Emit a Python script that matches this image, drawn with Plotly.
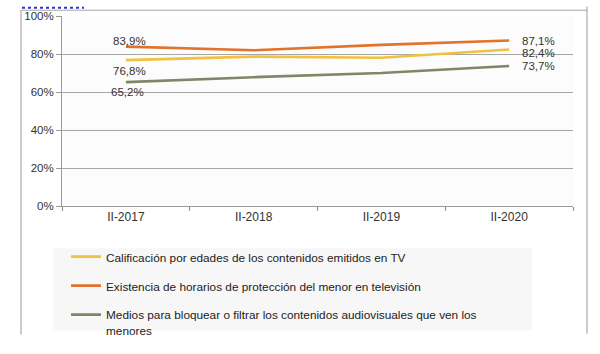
import plotly.graph_objects as go

categories = ["II-2017", "II-2018", "II-2019", "II-2020"]
series_names = [
    "Calificación por edades de los contenidos emitidos en TV",
    "Existencia de horarios de protección del menor en televisión",
    "Medios para bloquear o filtrar los contenidos audiovisuales que ven los<br>menores",
]
calificacion = [76.8, 78.6, 78.0, 82.4]
horarios = [83.9, 82.0, 84.8, 87.1]
medios = [65.2, 67.8, 70.0, 73.7]
y_ticks = [0, 20, 40, 60, 80, 100]

colors = ["#F2C140", "#E2722C", "#7E8766"]
values = [calificacion, horarios, medios]
# label offsets (px) for first and last points
first_shift = [(4, -11), (4, 6), (2, -10)]
last_shift = [(11, -4), (11, 0), (11, 0)]

# plot area in pixels
PX0, PX1, PY0, PY1 = 62, 573, 10, 208
def px(x):
    return (x - PX0) / (PX1 - PX0)
def py(y):
    return (PY1 - y) / (PY1 - PY0)

def fmt(v):
    return f"{v:.1f}".replace(".", ",") + "%"

fig = go.Figure()
annotations = []
lab_font = dict(family="Liberation Sans, Arial", size=11.5, color="#333333")
for i, (name, vals) in enumerate(zip(series_names, values)):
    fig.add_trace(go.Scatter(
        x=categories, y=vals, name=name, mode="lines",
        line=dict(color=colors[i], width=2.6),
        legendgroup=str(i), hoverinfo="skip",
    ))
    annotations.append(dict(
        x=categories[0], y=vals[0], text=fmt(vals[0]), showarrow=False,
        xanchor="center", yanchor="middle",
        xshift=first_shift[i][0], yshift=first_shift[i][1], font=lab_font,
    ))
    annotations.append(dict(
        x=categories[-1], y=vals[-1], text=fmt(vals[-1]), showarrow=False,
        xanchor="left", yanchor="middle",
        xshift=last_shift[i][0], yshift=last_shift[i][1], font=lab_font,
    ))

shapes = [
    # outer chart border
    dict(type="line", xref="paper", yref="paper", x0=px(21), x1=px(21), y0=py(4), y1=py(342),
         line=dict(color="#A8A8A8", width=1.2)),
    dict(type="line", xref="paper", yref="paper", x0=px(587), x1=px(587), y0=py(0), y1=py(341),
         line=dict(color="#BDBDBD", width=1.5)),
    dict(type="line", xref="paper", yref="paper", x0=px(21), x1=px(587), y0=py(4), y1=py(4),
         line=dict(color="#A8A8A8", width=1)),
    # blue link underline at top
    dict(type="line", xref="paper", yref="paper", x0=px(22), x1=px(84), y0=py(1.5), y1=py(1.5),
         line=dict(color="#3333CC", width=2, dash="dot")),
    # legend background
    dict(type="rect", xref="paper", yref="paper", x0=px(53), x1=px(532), y0=py(252), y1=py(338),
         fillcolor="#F7F7F7", line=dict(width=0), layer="below"),
]

fig.update_layout(
    width=600, height=354,
    margin=dict(l=PX0, r=600 - PX1, t=PY0, b=354 - PY1),
    paper_bgcolor="white", plot_bgcolor="#FCFCFC",
    font=dict(family="Liberation Sans, Arial", size=11.5, color="#333333"),
    showlegend=True,
    legend=dict(
        x=px(66), xanchor="left", y=py(246), yanchor="top",
        bgcolor="rgba(0,0,0,0)", borderwidth=0,
        font=dict(family="Liberation Sans, Arial", size=11.8, color="#222222"),
        traceorder="grouped", tracegroupgap=10, itemwidth=30, valign="top",
    ),
    shapes=shapes,
    annotations=annotations,
    hovermode=False,
)
fig.update_xaxes(
    type="category", range=[-0.5, 3.5], tickson="boundaries",
    ticks="outside", ticklen=4, tickcolor="#888888",
    showgrid=False, showline=True, linecolor="#999999", linewidth=1,
    tickfont=dict(size=12, color="#333333"),
)
fig.update_yaxes(
    range=[0, 100], tickvals=y_ticks, ticktext=[f"{t}%" for t in y_ticks],
    ticks="outside", ticklen=5, tickcolor="#999999",
    showgrid=True, gridcolor="#A6A6A6", gridwidth=1,
    showline=True, linecolor="#999999", linewidth=1, zeroline=False,
    tickfont=dict(size=11.5, color="#333333"),
)

fig.write_html("out.html")
